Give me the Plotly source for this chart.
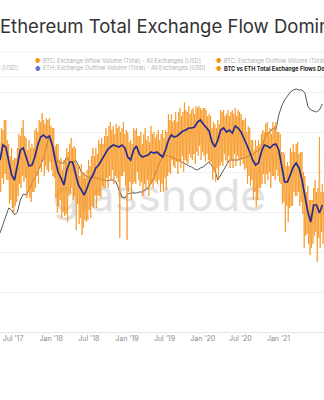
import pandas as pd
import plotly.graph_objects as go

# ---------------- data ----------------
start_date = "2017-04-29"

# BTC vs ETH total exchange flows dominance: weekly highs (read at each week start)
dominance_high = [
    47.5, 51, 50.5, 53, 53, 48, 47, 44,
    46, 43, 43.5, 43.5, 46, 49.5, 49, 51,
    53, 49, 48.5, 45.5, 48, 46, 47, 46,
    50.5, 51, 50, 53, 52.5, 54.75, 53, 52,
    53.5, 53, 53.5, 51.5, 51, 51, 46.5, 47,
    47, 43, 43.5, 40.5, 43, 43, 46, 45,
    47, 48.5, 46, 46.5, 46, 42, 42, 39,
    42, 39.5, 40, 38.5, 40.5, 43, 41.5, 44,
    46, 44, 46, 44.5, 48, 47, 48.5, 47,
    49, 51, 49, 51.5, 52.5, 50.5, 51.5, 49.5,
    52, 51, 51.5, 50, 51, 52.5, 49.5, 50.5,
    50, 47.5, 48, 47, 51, 50.5, 51, 49,
    49, 50, 47, 49.5, 51, 48, 49, 47.5,
    51.5, 49.5, 50, 48.5, 49.5, 50.5, 48, 49.5,
    50.5, 48.5, 50.5, 50, 54.5, 53, 54.5, 52.5,
    53, 55, 52.5, 55, 56, 54, 55, 57.5,
    55.5, 55, 56.5, 54.5, 55.5, 56, 54.5, 56.5,
    56, 56.5, 56, 55.5, 56, 56, 55.5, 54,
    54.5, 54, 51, 52.5, 52, 51, 53, 52,
    55.5, 55, 55.5, 54, 54.5, 55.5, 54, 55,
    55.5, 54.5, 56, 54, 55.5, 55, 54.5, 53,
    53, 53.5, 50, 51.5, 51, 48, 48, 45.5,
    48, 46.5, 48, 47, 49.5, 50.5, 50, 52,
    52.5, 50, 51, 49.5, 52.5, 51.5, 52.5, 50,
    50, 49.5, 45, 45, 44.5, 41.5, 42.5, 41.5,
    46, 45, 47, 45, 47, 47.5, 44.5, 45,
    45, 40, 39, 35, 36.5, 33, 33, 33,
    36, 38, 35, 36, 48.75, 35, 37, 35,
]

# weekly lows (read half a week later)
dominance_low = [
    35, 38.5, 37, 39.5, 38, 38, 32, 33,
    31, 29.5, 31.5, 32.5, 34, 37, 36, 39,
    37.5, 38.5, 33.5, 35, 33.5, 32.5, 35, 35,
    36, 39, 37, 41, 40, 43, 39, 41.5,
    40.5, 40, 42.5, 40.5, 39, 38.5, 33.5, 29.75,
    31.5, 33, 28.5, 30, 29, 29.5, 27.5, 34,
    34.5, 36, 33, 34, 25.5, 32, 27, 28.5,
    24.25, 26, 28, 27.5, 28, 30.5, 28.5, 31.5,
    31, 34, 31, 34, 34, 33.5, 36.5, 36,
    36, 38.5, 36, 39, 38, 40.5, 37, 39,
    38.5, 37.5, 23.5, 39, 39, 40, 36.5, 23,
    35, 37.5, 33, 37, 37.5, 37, 40, 38,
    36.5, 37.5, 34, 37, 35.5, 38, 34, 37,
    37, 36, 38, 37.5, 37, 38, 35, 37,
    35, 38.5, 35.5, 39, 40, 39.5, 43, 41.5,
    41, 42.5, 39.5, 42.5, 41, 44, 40, 43,
    42.5, 42, 44.5, 43.5, 43, 44.5, 42, 45,
    44, 46.5, 43, 45, 44, 42.5, 44.5, 43,
    42, 42.5, 38, 40, 37.5, 41, 38, 41.5,
    42.5, 41.5, 44.5, 43, 42, 44, 41, 43,
    41, 44.5, 41.5, 44, 43, 41.5, 43.5, 42,
    40.5, 41, 37, 39, 36.5, 38, 33, 35,
    31.25, 33, 36, 36, 37, 39.5, 37, 39.5,
    38, 40, 36, 39, 39, 38, 40.5, 39,
    37.5, 37, 32, 32.5, 25, 31.5, 27.5, 31,
    31.5, 31.5, 35, 34, 34, 35, 31.5, 32.5,
    29.5, 21, 24, 24.5, 22, 19.25, 21, 22,
    24, 25, 17.5, 23.5, 21, 25, 22, 24,
]

# smoothed dominance (sampled bi-weekly)
dominance_ma = [
    43, 46.75, 46.25, 42.25, 39.25, 38, 41.75, 45.5,
    46, 43.5, 41.5, 41.75, 43.75, 46.75, 48.75, 49.25,
    48.5, 49, 46.75, 43, 40, 38.5, 36.75, 40.5,
    42.5, 42.5, 39.25, 36.75, 35.5, 34.25, 36, 38,
    39.25, 41, 41.75, 43, 44.25, 45.5, 46.25, 46.75,
    46.5, 46.25, 46.75, 46, 43.75, 43, 45.5, 46.5,
    44.5, 43.75, 44, 44.25, 45, 44.75, 45, 44.25,
    43.75, 45.5, 48, 49.25, 48.75, 49, 49.75, 50.25,
    50.5, 51, 51, 51.25, 52.5, 53, 52, 51,
    50.25, 47.5, 46.25, 48, 50.5, 51, 50, 50.5,
    49.75, 51.5, 51, 50, 48.5, 46.75, 45, 43,
    41.75, 42.25, 45, 46.75, 46.5, 46, 46.75, 47,
    45.5, 41.75, 37.5, 37.5, 39.5, 41.25, 42.25, 41,
    38, 34.25, 30, 27.5, 31.75, 31.75, 29.75, 31.75,
]

# reference line (gray, sampled bi-weekly)
reference = [
    24.75, 26.75, 28.5, 31, 30.5, 29.25, 30, 33,
    34.5, 34.25, 35.5, 37.25, 38.5, 40, 41.75, 43.5,
    46.75, 49.25, 46.75, 44.25, 42.5, 42.25, 42.25, 43.75,
    42.5, 42.5, 43, 41.75, 40, 39.25, 38.75, 38.75,
    38.75, 38.5, 38.5, 38, 38, 37.75, 38, 38,
    37.5, 35.5, 33.75, 33.5, 34.5, 34.75, 34.75, 34.75,
    35, 35, 35.5, 36, 37.25, 38.5, 40.5, 42.5,
    43.75, 44.25, 44, 43.75, 43.5, 43, 43, 42.25,
    42, 41.5, 41.25, 40.75, 40.5, 41, 41.25, 42,
    42.5, 41.5, 40.5, 38, 39.25, 40.5, 42, 43,
    43, 43, 43, 43.25, 43.5, 43.75, 44.25, 44.25,
    45, 45.5, 46, 48, 49.75, 50, 51, 50.5,
    54.25, 56.5, 58, 59, 60, 60.5, 60.75, 60.5,
    60.5, 59.75, 56.5, 55.5, 55.25, 55, 55.5, 57,
]

legend_items = [
    "BTC: Exchange Inflow Volume (Total) - All Exchanges [USD]",
    "BTC: Exchange Outflow Volume (Total) - All Exchanges [USD]",
    "ETH: Exchange Inflow Volume (Total) - All Exchanges [USD]",
    "ETH: Exchange Outflow Volume (Total) - All Exchanges [USD]",
    "BTC vs ETH Total Exchange Flows Dominance",
]
title_text = "Ethereum Total Exchange Flow Dominance"

x_weekly = pd.date_range(start_date, periods=len(dominance_high), freq="7D")
x_biweekly = pd.date_range(start_date, periods=len(dominance_ma), freq="14D")
half_week = pd.Timedelta(hours=84)

dom_x, dom_y = [], []
for d, hi, lo in zip(x_weekly, dominance_high, dominance_low):
    dom_x += [d, d + half_week]
    dom_y += [hi, lo]

ORANGE = "#f7931a"
NAVY = "#2b2d8e"
BLUE_DOT = "#5b6fd8"
FONT = "Inter"

fig = go.Figure()

# watermark (behind the lines)
fig.add_trace(go.Scatter(
    x=[pd.Timestamp("2019-06-05")], y=[33], mode="text", text=["glassnode"],
    textposition="middle center",
    textfont=dict(family=FONT, size=44, color="rgba(212,212,212,0.7)"),
    hoverinfo="skip", showlegend=False))

fig.add_trace(go.Scatter(x=x_biweekly, y=reference, mode="lines",
                         line=dict(color="#5a5a5a", width=1), showlegend=False))
fig.add_trace(go.Scatter(x=dom_x, y=dom_y, mode="lines",
                         line=dict(color=ORANGE, width=0.75), showlegend=False))
fig.add_trace(go.Scatter(x=x_biweekly, y=dominance_ma, mode="lines",
                         line=dict(color=NAVY, width=1.7), showlegend=False))

W, H = 324, 400
TOP, BOT = 78, 332


def px_x(X):
    return X / W


def px_y(Y):
    return (BOT - Y) / (BOT - TOP)


ann = []
ann.append(dict(text=title_text, x=px_x(-2), y=px_y(26), xref="paper", yref="paper",
                xanchor="left", yanchor="middle", showarrow=False,
                font=dict(family=FONT, size=18.5, color="#333333")))

legend_gray = "#b0b0b0"
LEG_SIZE = 5.6
rows = [
    (61, 37, ORANGE, legend_items[0], legend_gray, False),
    (61, 218, ORANGE, legend_items[1], legend_gray, False),
    (68, 37, BLUE_DOT, legend_items[3], legend_gray, False),
    (68, 218, ORANGE, legend_items[4], "#222222", True),
]
for (Y, X, dc, txt, tc, bold) in rows:
    ann.append(dict(text="●", x=px_x(X), y=px_y(Y), xref="paper", yref="paper",
                    xanchor="center", yanchor="middle", showarrow=False,
                    font=dict(family=FONT, size=6, color=dc)))
    ann.append(dict(text=("<b>%s</b>" % txt) if bold else txt, x=px_x(X + 4), y=px_y(Y),
                    xref="paper", yref="paper", xanchor="left", yanchor="middle",
                    showarrow=False, font=dict(family=FONT, size=LEG_SIZE, color=tc)))
# cut-off entry at far left of row 2
ann.append(dict(text=legend_items[2], x=px_x(20), y=px_y(68), xref="paper", yref="paper",
                xanchor="right", yanchor="middle", showarrow=False,
                font=dict(family=FONT, size=LEG_SIZE, color=legend_gray)))

shapes = [
    dict(type="line", xref="paper", yref="paper", x0=0, x1=1, y0=px_y(52), y1=px_y(52),
         line=dict(color="#efefef", width=1)),
    dict(type="line", xref="paper", yref="paper", x0=0, x1=1, y0=px_y(77), y1=px_y(77),
         line=dict(color="#ececec", width=1)),
]

fig.update_layout(
    width=W, height=H,
    margin=dict(l=0, r=0, t=TOP, b=H - BOT),
    paper_bgcolor="white", plot_bgcolor="white",
    annotations=ann, shapes=shapes,
    showlegend=False,
    xaxis=dict(range=["2017-04-29", "2021-08-08"], type="date",
               tick0="2017-07-01", dtick="M6", tickformat="%b '%y",
               showgrid=False, showline=True, linecolor="#e4e4e4", linewidth=1,
               ticks="", tickfont=dict(family=FONT, size=7, color="#8a8a8a"),
               zeroline=False),
    yaxis=dict(range=[0, 63.5], dtick=10, showgrid=True, gridcolor="#f1f1f1",
               gridwidth=1, showticklabels=False, zeroline=False, ticks=""),
)

fig.write_html("out.html")
